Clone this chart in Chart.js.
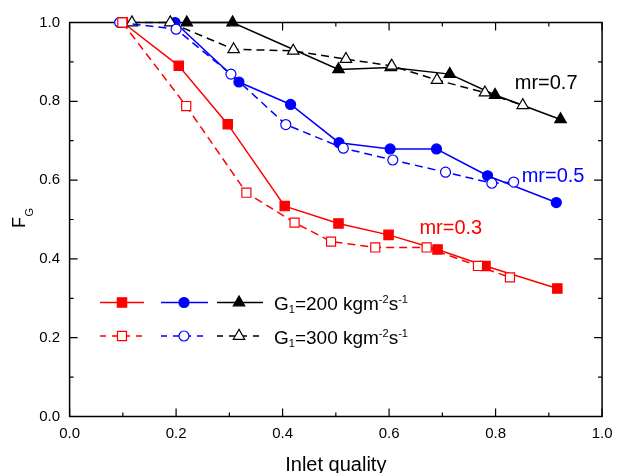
<!DOCTYPE html>
<html><head><meta charset="utf-8">
<script src="https://cdn.jsdelivr.net/npm/chart.js@4"></script>
<style>html,body{margin:0;padding:0;background:#fff;}#wrap{width:621px;height:473px;position:relative;}</style>
</head><body><div id="wrap"><canvas id="c" width="621" height="473"></canvas></div>
<script>
// ---- data ----
const r200x = [0.100,0.205,0.297,0.404,0.505,0.599,0.691,0.781,0.916];
const r200y = [1.000,0.890,0.742,0.534,0.490,0.461,0.424,0.382,0.325];
const r300x = [0.099,0.219,0.332,0.4225,0.491,0.574,0.6705,0.767,0.827];
const r300y = [1.000,0.788,0.568,0.492,0.444,0.429,0.429,0.382,0.353];
const b200x = [0.198,0.318,0.415,0.506,0.602,0.689,0.785,0.914];
const b200y = [1.000,0.849,0.792,0.695,0.679,0.679,0.611,0.543];
const b300x = [0.094,0.200,0.303,0.406,0.514,0.607,0.706,0.793,0.834];
const b300y = [1.000,0.983,0.869,0.741,0.681,0.651,0.620,0.592,0.595];
const k200x = [0.220,0.306,0.505,0.603,0.714,0.799,0.922];
const k200y = [1.000,1.000,0.881,0.886,0.869,0.816,0.754];
const k300x = [0.117,0.189,0.308,0.420,0.519,0.605,0.690,0.780,0.851];
const k300y = [1.000,1.000,0.932,0.928,0.907,0.890,0.854,0.822,0.790];

const xTickVals = [0,0.2,0.4,0.6,0.8,1.0];
const xTickLabels = ['0.0','0.2','0.4','0.6','0.8','1.0'];
const yTickVals = [0,0.2,0.4,0.6,0.8,1.0];
const yTickLabels = ['0.0','0.2','0.4','0.6','0.8','1.0'];
const xMinorVals = [0.1,0.3,0.5,0.7,0.9];
const yMinorVals = [0.1,0.3,0.5,0.7,0.9];

const seriesLabels = ['mr=0.3','mr=0.5','mr=0.7'];
const legendTexts = [
  [['G',19,0],['1',11,3],['=200 kgm',19,0],['-2',11,-7],['s',19,0],['-1',11,-7]],
  [['G',19,0],['1',11,3],['=300 kgm',19,0],['-2',11,-7],['s',19,0],['-1',11,-7]]
];

const FONT = "'Liberation Sans', Arial, Helvetica, sans-serif";
const RED = '#FF0000', BLUE = '#0000FF', BLACK = '#000000';

function mk(xs, ys, color, style, radius, hollow) {
  return {
    data: xs.map((x, i) => ({x: x, y: ys[i]})),
    borderColor: color,
    backgroundColor: color,
    borderWidth: 1.5,
    borderDash: hollow ? [8, 5] : [],
    pointStyle: style,
    pointRadius: radius,
    pointHoverRadius: radius,
    pointBorderColor: color,
    pointBackgroundColor: hollow ? '#FFFFFF' : color,
    pointBorderWidth: 1.2,
    showLine: true,
    fill: false,
    tension: 0,
    clip: false,
    hollow: hollow
  };
}

const dsR300 = mk(r300x, r300y, RED, 'rect', 6.4, true);
const dsB300 = mk(b300x, b300y, BLUE, 'circle', 5.0, true);
const dsK300 = mk(k300x, k300y, BLACK, 'triangle', 6.6, true);
const dsR200 = mk(r200x, r200y, RED, 'rect', 6.6, false);
const dsB200 = mk(b200x, b200y, BLUE, 'circle', 5.0, false);
const dsK200 = mk(k200x, k200y, BLACK, 'triangle', 6.6, false);

const framePlugin = {
  id: 'frame',
  beforeDatasetsDraw(chart) {
    const ctx = chart.ctx, a = chart.chartArea;
    const xs = chart.scales.x, ys = chart.scales.y;
    ctx.save();
    ctx.strokeStyle = '#000'; ctx.lineWidth = 1.5;
    ctx.strokeRect(a.left, a.top, a.right - a.left, a.bottom - a.top);
    ctx.lineWidth = 1.2;
    ctx.beginPath();
    const doX = (v, len) => { const p = xs.getPixelForValue(v);
      ctx.moveTo(p, a.bottom); ctx.lineTo(p, a.bottom - len);
      ctx.moveTo(p, a.top); ctx.lineTo(p, a.top + len); };
    const doY = (v, len) => { const p = ys.getPixelForValue(v);
      ctx.moveTo(a.left, p); ctx.lineTo(a.left + len, p);
      ctx.moveTo(a.right, p); ctx.lineTo(a.right - len, p); };
    xTickVals.forEach(v => doX(v, 8)); xMinorVals.forEach(v => doX(v, 4));
    yTickVals.forEach(v => doY(v, 8)); yMinorVals.forEach(v => doY(v, 4));
    ctx.stroke();
    ctx.restore();
  },
  afterDraw(chart) {
    const ctx = chart.ctx;
    const xs = chart.scales.x, ys = chart.scales.y;
    ctx.save();
    // series annotations
    ctx.textBaseline = 'middle'; ctx.textAlign = 'left';
    ctx.font = '20px ' + FONT;
    ctx.fillStyle = RED;   ctx.fillText(seriesLabels[0], xs.getPixelForValue(0.657), ys.getPixelForValue(0.478));
    ctx.fillStyle = BLUE;  ctx.fillText(seriesLabels[1], xs.getPixelForValue(0.849), ys.getPixelForValue(0.608));
    ctx.fillStyle = BLACK; ctx.fillText(seriesLabels[2], xs.getPixelForValue(0.836), ys.getPixelForValue(0.844));

    // y axis title F_G
    ctx.save();
    ctx.translate(25, 228);
    ctx.rotate(-Math.PI / 2);
    ctx.textBaseline = 'alphabetic'; ctx.textAlign = 'left';
    ctx.fillStyle = '#000';
    ctx.font = '18px ' + FONT;
    ctx.fillText('F', 0, 0);
    const fw = ctx.measureText('F').width;
    ctx.font = '11px ' + FONT;
    ctx.fillText('G', fw + 0.5, 8);
    ctx.restore();

    // legend
    const rows = [[dsR200, dsB200, dsK200], [dsR300, dsB300, dsK300]];
    const rowY = [302.5, 336];
    const segs = [[100, 144, 122], [161, 208, 184], [217, 263, 239]];
    rows.forEach((row, ri) => {
      const y = rowY[ri];
      row.forEach((ds, si) => {
        const s = segs[si];
        ctx.save();
        ctx.strokeStyle = ds.borderColor; ctx.lineWidth = ds.borderWidth;
        ctx.setLineDash(ds.hollow ? [6, 6] : []);
        ctx.beginPath(); ctx.moveTo(s[0], y); ctx.lineTo(s[1], y); ctx.stroke();
        ctx.setLineDash([]);
        ctx.fillStyle = ds.pointBackgroundColor; ctx.strokeStyle = ds.pointBorderColor;
        ctx.lineWidth = ds.pointBorderWidth;
        Chart.helpers.drawPoint(ctx, {pointStyle: ds.pointStyle, radius: ds.pointRadius, rotation: 0, borderWidth: ds.pointBorderWidth}, s[2], y);
        ctx.restore();
      });
      let tx = 274;
      ctx.fillStyle = '#000'; ctx.textAlign = 'left'; ctx.textBaseline = 'alphabetic';
      legendTexts[ri].forEach(p => {
        ctx.font = p[1] + 'px ' + FONT;
        ctx.fillText(p[0], tx, y + 7.5 + p[2]);
        tx += ctx.measureText(p[0]).width;
      });
    });
    ctx.restore();
  }
};

const fixTicks = (vals) => (scale) => { scale.ticks = vals.map(v => ({value: v})); };

new Chart(document.getElementById('c'), {
  type: 'line',
  data: { datasets: [dsR300, dsB300, dsK300, dsR200, dsB200, dsK200] },
  options: {
    responsive: false,
    animation: false,
    events: [],
    layout: { padding: { left: 0, right: 14, top: 22.5, bottom: 0 } },
    plugins: { legend: { display: false }, tooltip: { enabled: false } },
    scales: {
      x: {
        type: 'linear', min: 0, max: 1,
        afterBuildTicks: fixTicks(xTickVals),
        afterFit: (s) => { s.height = 56.5; },
        grid: { display: false, drawTicks: false },
        border: { display: false },
        ticks: { padding: 8.5, maxRotation: 0, autoSkip: false, color: '#000',
          font: { family: FONT, size: 15 },
          callback: (v) => { const i = xTickVals.findIndex(t => Math.abs(t - v) < 1e-9); return i >= 0 ? xTickLabels[i] : ''; } },
        title: { display: true, text: 'Inlet quality', color: '#000',
          font: { family: FONT, size: 20, lineHeight: 1 }, padding: { top: 0, bottom: -2 } }
      },
      y: {
        type: 'linear', min: 0, max: 1,
        afterBuildTicks: fixTicks(yTickVals),
        afterFit: (s) => { s.width = 69.6; },
        grid: { display: false, drawTicks: false },
        border: { display: false },
        ticks: { padding: 9.5, color: '#000', font: { family: FONT, size: 15 },
          callback: (v) => { const i = yTickVals.findIndex(t => Math.abs(t - v) < 1e-9); return i >= 0 ? yTickLabels[i] : ''; } },
        title: { display: false }
      }
    }
  },
  plugins: [framePlugin]
});
</script></body></html>
